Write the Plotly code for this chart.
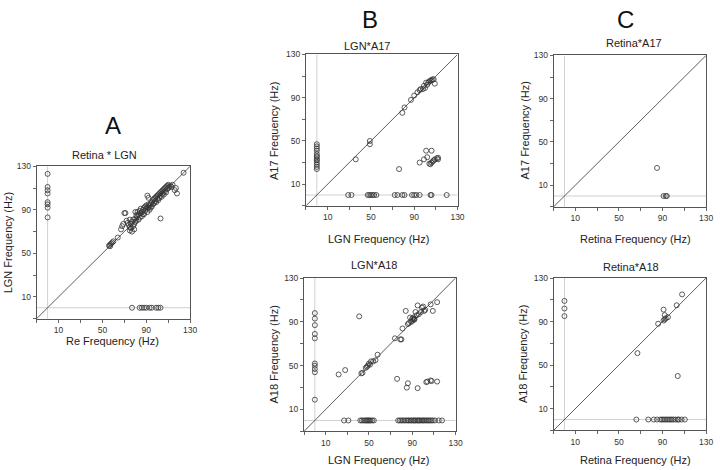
import plotly.graph_objects as go

# ---------------- data (Hz) ----------------
# Panel A: Retina * LGN
a_zero_ret_lgn = [123, 111, 108, 105, 97, 95, 92, 83]          # retina = 0
a_zero_lgn_ret = [77, 84, 86, 88, 90, 93, 95, 99, 101, 103]    # LGN = 0
a_pairs_x = [56, 57, 57, 58, 59, 60, 64, 67, 68, 69, 70, 71, 72, 73, 74, 75, 75, 75, 76, 76, 77, 77,
             78, 78, 79, 79, 80, 80, 80, 81, 81, 82, 82, 83, 83, 84, 84, 85, 85, 86, 86, 87, 87,
             88, 88, 89, 89, 90, 90, 91, 91, 91, 92, 92, 92, 93, 93, 94, 94, 95, 95, 96, 96, 97, 97,
             98, 98, 99, 99, 100, 100, 101, 101, 102, 102, 103, 103, 103, 104, 104, 105, 105, 106,
             106, 107, 107, 108, 108, 109, 109, 110, 110, 111, 112, 113, 114, 116, 118, 117, 124]
a_pairs_y = [57, 58, 56.5, 59, 60, 61, 64.5, 72, 75, 77, 87, 87, 80, 78, 76, 74, 71, 81, 77, 73, 79, 70,
             75, 81, 72, 77, 82, 88, 79, 80, 85, 84, 88, 86, 81, 83, 89, 87, 91, 84, 88, 90, 86,
             86, 92, 89, 93, 91, 94, 88, 92, 103, 92, 95, 101, 90, 94, 96, 92, 93, 97, 95, 99, 96, 100,
             98, 101, 97, 102, 100, 103, 99, 104, 101, 105, 103, 106, 82, 102, 107, 105, 108, 104,
             109, 107, 110, 106, 111, 109, 112, 110, 113, 111, 112, 111, 113, 108, 105, 110, 124]

# Panel B top: LGN * A17
b17_zero_lgn = [47, 45, 43, 41, 38, 36, 35, 33, 32, 30, 28, 26, 24]
b17_zero_a17 = [29, 32, 47, 48.5, 50, 51.5, 53, 55, 72, 74.5, 79, 81, 88, 90, 92, 95, 105, 106, 120]
b17_pairs_x = [36, 49, 49, 76, 79, 81, 87, 90, 93, 95, 96, 98, 99, 100, 101, 102, 103, 104, 105, 106,
               107, 108, 109, 95, 99, 101, 102, 104, 105, 106, 106, 107, 108, 109, 111, 112, 112]
b17_pairs_y = [33, 50, 47, 24, 76, 81, 88, 92, 95, 97, 98, 98, 101, 99, 104, 102, 104, 105, 106, 106,
               107, 107, 103, 30, 33, 41, 35, 29, 28.5, 41, 30, 31, 32, 33, 34, 34.5, 33]

# Panel B bottom: LGN * A18
b18_zero_lgn = [98, 93, 87, 79, 75, 52, 50, 47, 44, 19]
b18_zero_a18 = [27, 31, 42, 43.5, 45, 46.5, 47.5, 48.5, 49.5, 50.5, 51.5, 53, 54.5,
                77, 78.5, 80, 81.5, 83, 84.5, 86, 87, 88.5, 89.5, 91, 92, 93, 94.5, 95.5, 96.5,
                97.5, 99, 100, 101, 102.5, 103.5, 105, 106, 107.5, 109, 111, 114.5, 117.5]
b18_pairs_x = [22, 28, 41, 43, 44, 47, 48, 49, 50, 51, 52, 54, 56, 58, 74, 79, 80, 76, 81, 84, 86, 87,
               88, 89, 90, 90, 91, 91, 92, 92, 93, 94, 95, 96, 98, 99, 100, 101, 102, 107, 109, 113,
               86, 85, 95, 103, 104, 107, 108, 113]
b18_pairs_y = [42, 46, 95, 43, 43.5, 48, 49, 50, 52, 51, 54, 54, 55, 60, 75, 74, 74, 38, 84, 100, 88, 89,
               94, 90, 91, 93, 92, 94, 92, 93, 99, 96, 105, 97, 99, 103, 104, 100, 101, 106, 100, 108,
               34, 30, 29.5, 35, 35.5, 36.5, 36, 35.5]

# Panel C top: Retina * A17
c17_pairs_x = [85]
c17_pairs_y = [26]
c17_zero_a17 = [91, 93, 94]

# Panel C bottom: Retina * A18
c18_zero_ret = [109, 102, 95]
c18_pairs_x = [67, 86, 91, 92, 91, 92, 93, 95, 103, 108, 104]
c18_pairs_y = [61, 88, 101, 96, 91, 92, 93, 94, 105, 115, 40]
c18_zero_a18 = [66, 77, 82, 85, 88, 89.5, 91, 92.5, 94, 95.5, 97, 98.5, 100, 102, 104, 105, 107.5, 110.5]

AXIS_RANGE = [-10, 130]
TICK_VALS = [-10, 10, 30, 50, 70, 90, 110, 130]
TICK_TEXT = ["", "10", "", "50", "", "90", "", "130"]

# ---------------- assemble ----------------
def panel_points(pairs_x, pairs_y, zero_x_vals_y, zero_y_vals_x):
    xs = list(pairs_x) + [0] * len(zero_x_vals_y) + list(zero_y_vals_x)
    ys = list(pairs_y) + list(zero_x_vals_y) + [0] * len(zero_y_vals_x)
    return xs, ys

panels = [
    dict(pts=panel_points(a_pairs_x, a_pairs_y, a_zero_ret_lgn, a_zero_lgn_ret),
         box=(37, 192, 163, 317), title="Retina * LGN", tpos=(106, 152),
         xt="Re Frequency (Hz)", xtpos=(114, 340), yt="LGN Frequency (Hz)", ytpos=(9, 240)),
    dict(pts=panel_points(b17_pairs_x, b17_pairs_y, b17_zero_lgn, b17_zero_a17),
         box=(309, 462, 50, 203), title="LGN*A17", tpos=(371, 41),
         xt="LGN Frequency (Hz)", xtpos=(382, 237), yt="A17 Frequency (Hz)", ytpos=(276, 127)),
    dict(pts=panel_points(b18_pairs_x, b18_pairs_y, b18_zero_lgn, b18_zero_a18),
         box=(307, 460, 276, 431), title="LGN*A18", tpos=(378, 263),
         xt="LGN Frequency (Hz)", xtpos=(382, 460), yt="A18 Frequency (Hz)", ytpos=(277, 353)),
    dict(pts=panel_points(c17_pairs_x, c17_pairs_y, [], c17_zero_a17),
         box=(559, 713, 51, 204), title="Retina*A17", tpos=(640, 38),
         xt="Retina Frequency (Hz)", xtpos=(642, 237), yt="A17 Frequency (Hz)", ytpos=(530, 127)),
    dict(pts=panel_points(c18_pairs_x, c18_pairs_y, c18_zero_ret, c18_zero_a18),
         box=(559, 713, 276, 430), title="Retina*A18", tpos=(637, 265),
         xt="Retina Frequency (Hz)", xtpos=(642, 460), yt="A18 Frequency (Hz)", ytpos=(528, 353)),
]

W, H = 720, 470
def fx(px):
    return px / W
def fy(py):
    return 1 - py / H

FONT = "Liberation Sans, Arial, sans-serif"
fig = go.Figure()
layout = dict(width=W, height=H, margin=dict(l=0, r=0, t=0, b=0),
              paper_bgcolor="white", plot_bgcolor="white", showlegend=False,
              font=dict(family=FONT, color="#222"))
annotations = []

for i, p in enumerate(panels, start=1):
    sfx = "" if i == 1 else str(i)
    xa, ya = "x" + sfx, "y" + sfx
    l, r, t, b = p["box"]
    axis_common = dict(range=AXIS_RANGE, tickvals=TICK_VALS, ticktext=TICK_TEXT,
                       ticks="outside", ticklen=3, tickwidth=1, tickcolor="#666",
                       showline=True, linecolor="#555", linewidth=1, mirror=True,
                       showgrid=False, zeroline=False,
                       tickfont=dict(size=8.5, family=FONT, color="#333"))
    layout["xaxis" + sfx] = dict(axis_common, domain=[fx(l), fx(r)], anchor=ya)
    layout["yaxis" + sfx] = dict(axis_common, domain=[fy(b), fy(t)], anchor=xa)

    fig.add_trace(go.Scatter(x=[0, 0], y=AXIS_RANGE, mode="lines",
                             line=dict(color="#d0d0d0", width=1), xaxis=xa, yaxis=ya,
                             hoverinfo="skip"))
    fig.add_trace(go.Scatter(x=AXIS_RANGE, y=[0, 0], mode="lines",
                             line=dict(color="#d0d0d0", width=1), xaxis=xa, yaxis=ya,
                             hoverinfo="skip"))
    fig.add_trace(go.Scatter(x=AXIS_RANGE, y=AXIS_RANGE, mode="lines",
                             line=dict(color="#333", width=0.8), xaxis=xa, yaxis=ya,
                             hoverinfo="skip"))
    xs, ys = p["pts"]
    fig.add_trace(go.Scatter(x=xs, y=ys, mode="markers", xaxis=xa, yaxis=ya,
                             marker=dict(symbol="circle-open", size=5, color="#333",
                                         line=dict(width=0.8, color="#333"))))

    annotations.append(dict(text=p["title"], x=fx(p["tpos"][0]), y=fy(p["tpos"][1]),
                            xref="paper", yref="paper", showarrow=False,
                            xanchor="center", yanchor="middle",
                            font=dict(size=11, family=FONT, color="#222")))
    annotations.append(dict(text=p["xt"], x=fx(p["xtpos"][0]), y=fy(p["xtpos"][1]),
                            xref="paper", yref="paper", showarrow=False,
                            xanchor="center", yanchor="middle",
                            font=dict(size=11, family=FONT, color="#222")))
    annotations.append(dict(text=p["yt"], x=fx(p["ytpos"][0]), y=fy(p["ytpos"][1]),
                            xref="paper", yref="paper", showarrow=False, textangle=-90,
                            xanchor="center", yanchor="middle",
                            font=dict(size=11, family=FONT, color="#222")))

for letter, (lx, ly) in [("A", (114, 122)), ("B", (374, 15)), ("C", (632, 15))]:
    annotations.append(dict(text=letter, x=fx(lx), y=fy(ly), xref="paper", yref="paper",
                            showarrow=False, xanchor="center", yanchor="middle",
                            font=dict(size=24, family=FONT, color="#111")))

layout["annotations"] = annotations
fig.update_layout(**layout)
fig.write_html("out.html", config={"displayModeBar": False, "staticPlot": True},
               post_script="document.body.style.margin='0';document.body.style.padding='0';"
                           "document.documentElement.style.overflow='hidden';")
